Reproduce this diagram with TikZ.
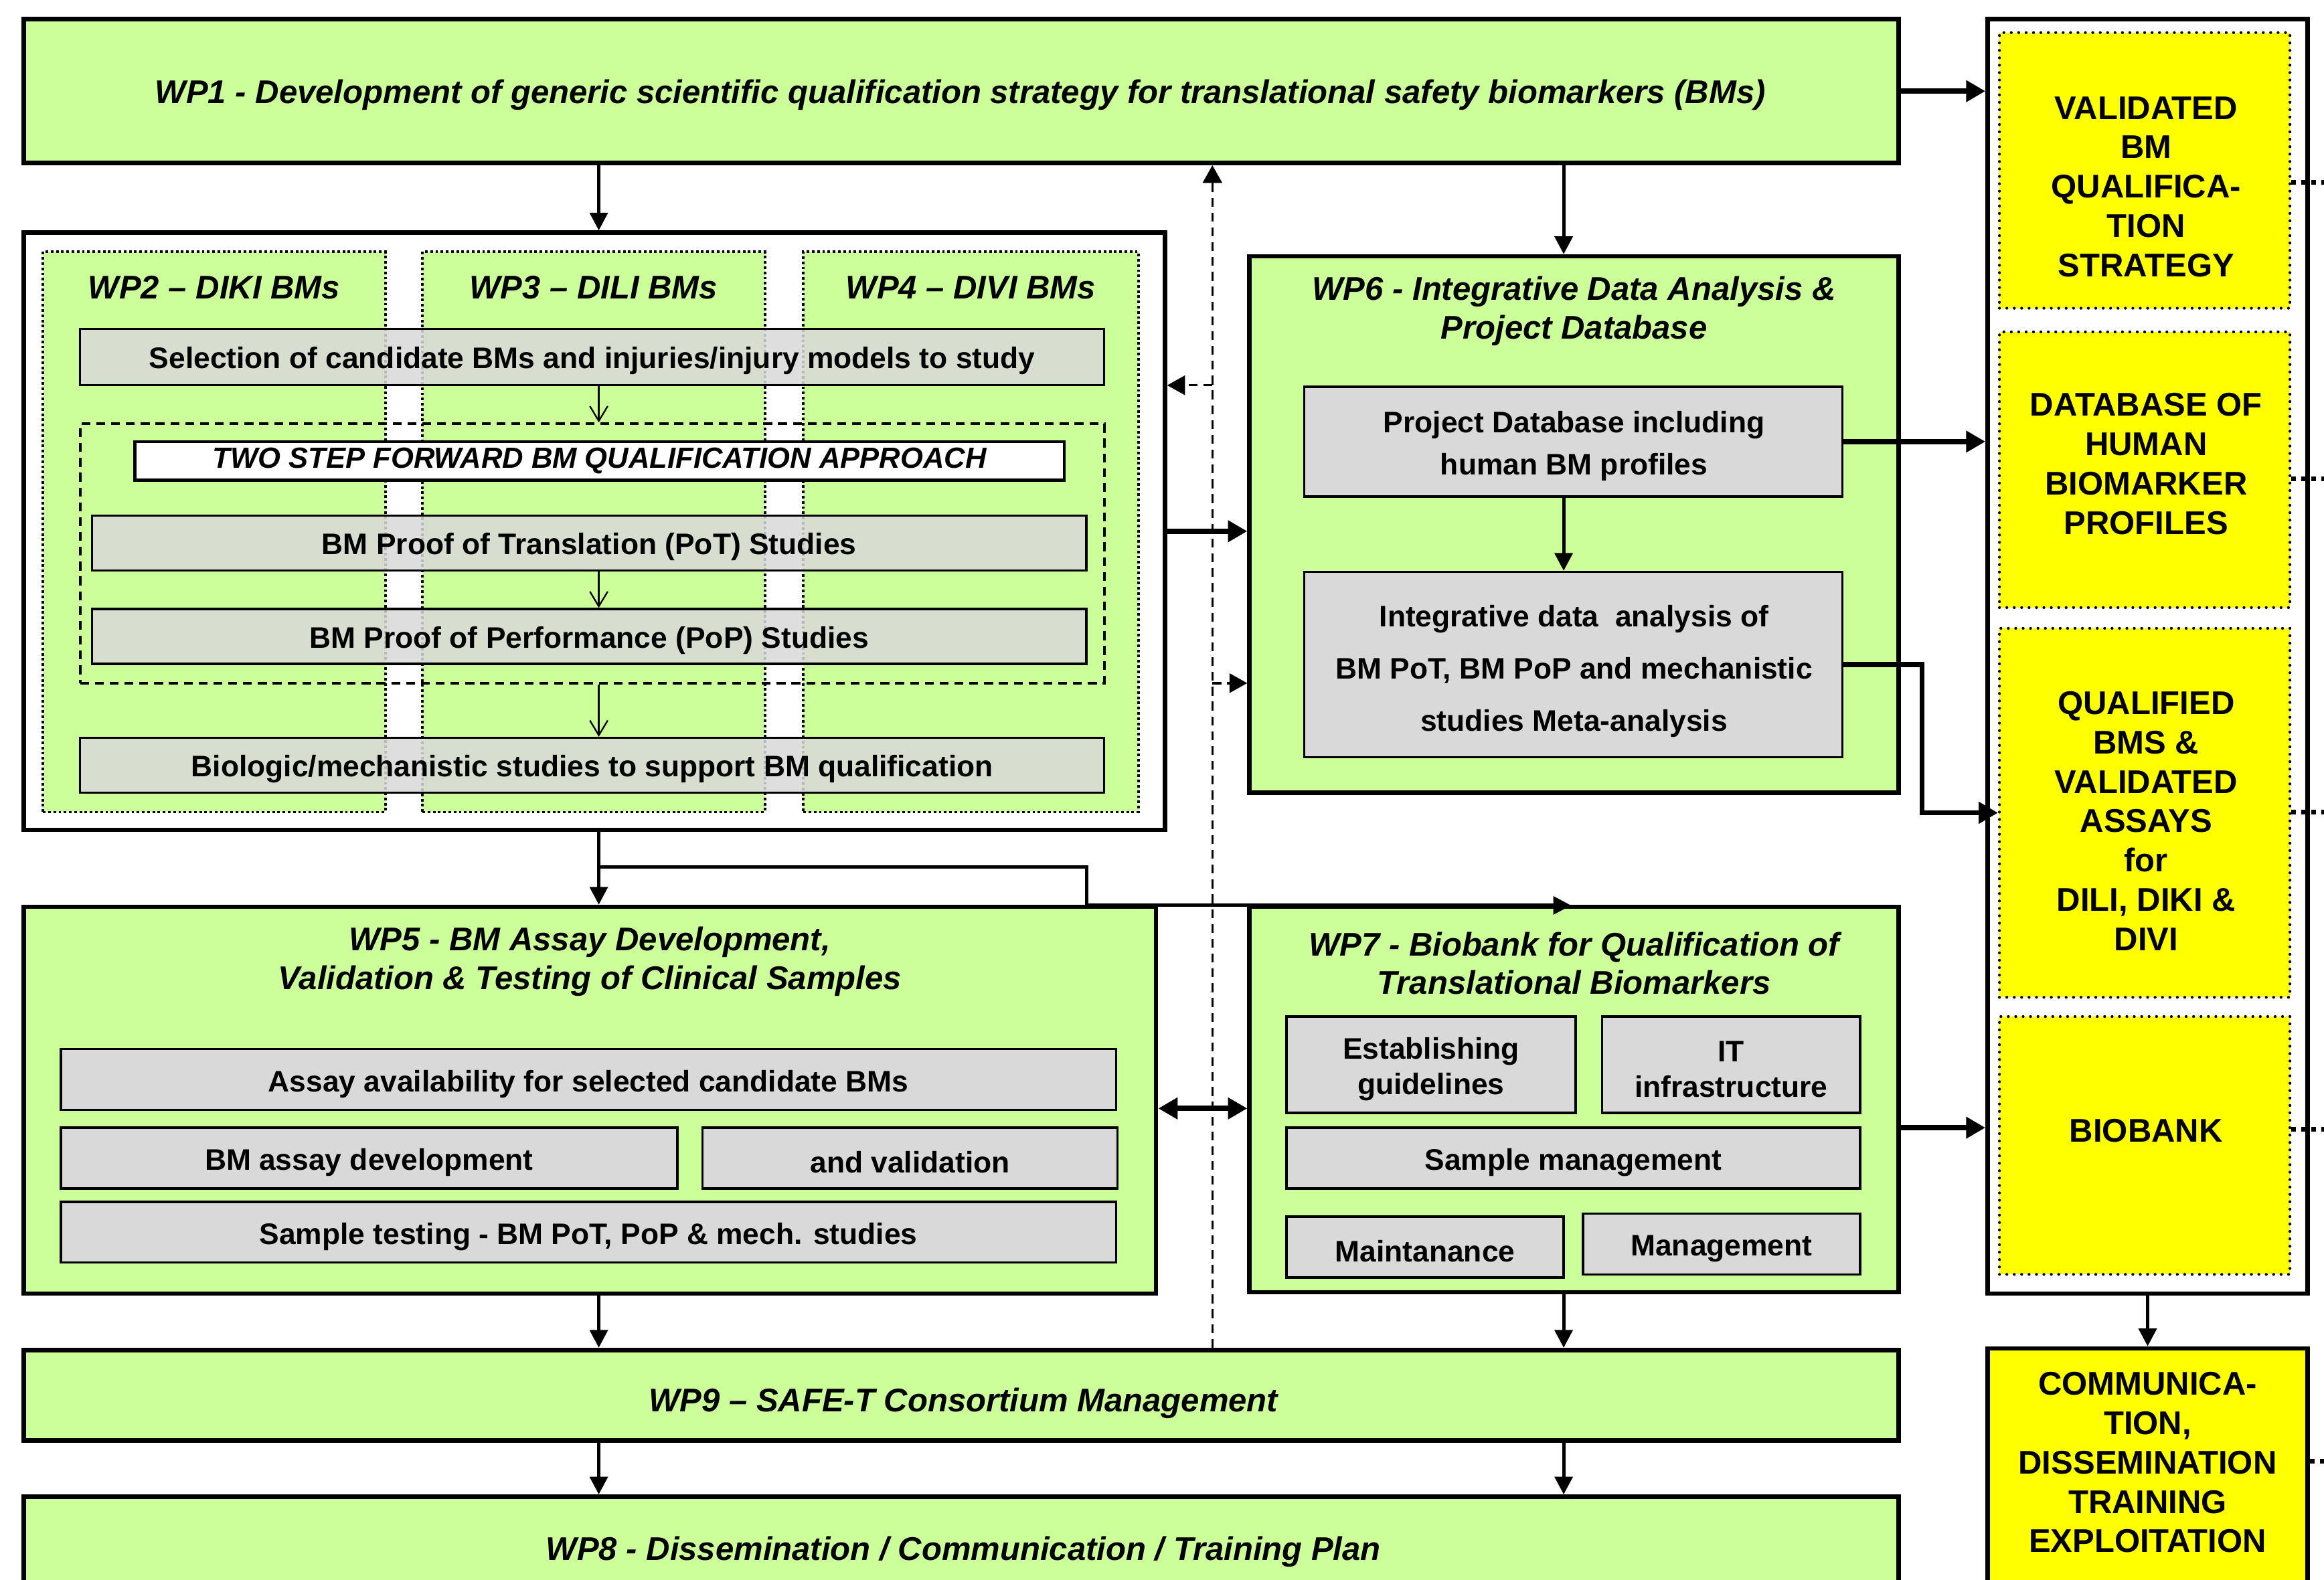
\documentclass[tikz,border=0pt]{standalone}
\usepackage{fontspec}
\setmainfont{Liberation Sans}
\usetikzlibrary{arrows.meta,fit}

\definecolor{wpgreen}{HTML}{CCFF99}
\definecolor{boxgray}{HTML}{D9D9D9}
\definecolor{outyellow}{HTML}{FFFF00}

\newcommand{\wpfont}{\fontsize{12.6}{14.8}\selectfont\bfseries\itshape}
\newcommand{\boxfont}{\fontsize{11.4}{13.6}\selectfont\bfseries}
\newcommand{\outfont}{\fontsize{12.6}{15.1}\selectfont\bfseries}

\tikzset{
  wpbox/.style={draw,line width=1.7pt,fill=wpgreen,inner sep=0pt},
  framebox/.style={draw,line width=1.7pt,fill=white,inner sep=0pt},
  colbox/.style={draw,line width=1pt,dash pattern=on 1pt off 1pt,fill=wpgreen,inner sep=0pt},
  graybox/.style={draw,line width=0.9pt,fill=boxgray,inner sep=0pt},
  seebox/.style={graybox,fill opacity=0.85},
  outbox/.style={draw,line width=1.1pt,line cap=round,dash pattern=on 0pt off 1mm,fill=outyellow,inner sep=0pt},
  wptitle/.style={align=center,font=\wpfont,inner sep=0pt},
  boxtext/.style={align=center,font=\boxfont,inner sep=0pt},
  outtext/.style={align=center,font=\outfont,inner sep=0pt},
  arr/.style={line width=1.3pt,-{Triangle[length=2.4mm,width=2.4mm]}},
  bigarr/.style={line width=2pt,-{Triangle[length=2.6mm,width=2.8mm]}},
  dblarr/.style={line width=2pt,{Triangle[length=2.6mm,width=2.8mm]}-{Triangle[length=2.6mm,width=2.8mm]}},
  dasharr/.style={line width=0.9pt,dash pattern=on 1.2mm off 0.8mm,-{Triangle[length=2.4mm,width=2.6mm]}},
  openarr/.style={line width=0.6pt,-{Straight Barb[length=2mm,width=2.4mm]}},
  stub/.style={line width=1.7pt,dash pattern=on 0.6mm off 0.75mm}
}

\begin{document}
\begin{tikzpicture}[x=0.2mm,y=-0.2mm]
	\useasboundingbox (0,0) rectangle (1568,1066);

	\node[wpbox,fit={(16,13) (1281,110)}] (wp1) {};
	\node[wptitle] (t1) at (648,64) {WP1 - Development of generic scientific qualification strategy for translational safety biomarkers (BMs)};

	% outputs
	\node[framebox,fit={(1341,13) (1557,873)}] (outframe) {};
	\node[outbox,fit={(1349,22) (1545,208)}] (y1) {};
	\node[outbox,fit={(1349,224) (1545,410)}] (y2) {};
	\node[outbox,fit={(1349,424) (1545,673)}] (y3) {};
	\node[outbox,fit={(1349,686) (1545,860)}] (y4) {};
	\node[outtext] (o1) at (1448,126) {VALIDATED\\BM\\QUALIFICA-\\TION\\STRATEGY};
	\node[outtext] (o2) at (1448,313) {DATABASE OF\\HUMAN\\BIOMARKER\\PROFILES};
	\node[outtext] (o3) at (1448,554) {QUALIFIED\\BMS \&\\VALIDATED\\ASSAYS\\for\\DILI, DIKI \&\\DIVI};
	\node[outtext] (o4) at (1448,763) {BIOBANK};
	\node[draw,line width=1.7pt,fill=outyellow,inner sep=0pt,fit={(1341,910) (1557,1090)}] (comm) {};
	\node[outtext] (o5) at (1449,987) {COMMUNICA-\\TION,\\DISSEMINATION\\TRAINING\\EXPLOITATION};

	% WP2-WP4
	\node[framebox,fit={(16,157) (786,560)}] (frame) {};
	\node[colbox,fit={(29,170) (260,548)}] (wp2) {};
	\node[colbox,fit={(285,170) (516,548)}] (wp3) {};
	\node[colbox,fit={(542,170) (768,548)}] (wp4) {};
	\foreach \c/\t in {wp2/WP2 – DIKI BMs,wp3/WP3 – DILI BMs,wp4/WP4 – DIVI BMs}
		\node[wptitle] (h\c) at (\c.north |- 0,194) {\t};
	\node[seebox,fit={(54,222) (745,260)}] (sel) {};
	\node[draw,line width=1pt,dash pattern=on 1.2mm off 0.8mm,inner sep=0pt,fit={(54,286) (745,461)}] (step) {};
	\node[draw,line width=1.2pt,fill=white,inner sep=0pt,fit={(91,298) (718,324)}] (two) {};
	\node[seebox,fit={(62,348) (733,385)}] (pot) {};
	\node[seebox,fit={(62,411) (733,448)}] (pop) {};
	\node[seebox,fit={(54,498) (745,535)}] (bio) {};
	\node[boxtext] (sel-t) at ([yshift=-0.5mm]sel) {Selection of candidate BMs and injuries/injury models to study};
	\node[boxtext,font=\fontsize{11.2}{13}\selectfont\bfseries\itshape] (two-t) at (two) {TWO STEP FORWARD BM QUALIFICATION APPROACH};
	\node[boxtext] (pot-t) at ([yshift=-0.5mm]pot) {BM Proof of Translation (PoT) Studies};
	\node[boxtext] (pop-t) at ([yshift=-0.5mm]pop) {BM Proof of Performance (PoP) Studies};
	\node[boxtext] (bio-t) at ([yshift=-0.5mm]bio) {Biologic/mechanistic studies to support BM qualification};

	% WP6
	\node[wpbox,fit={(843,173) (1281,535)}] (wp6) {};
	\node[wptitle] (t6) at (1062,210) {WP6 - Integrative Data Analysis \&\\Project Database};
	\node[graybox,fit={(880,261) (1243,335)}] (pdb) {};
	\node[graybox,fit={(880,386) (1243,511)}] (ida) {};
	\node[boxtext,font=\fontsize{11.4}{16.4}\selectfont\bfseries] (pdb-t) at (1062,301) {Project Database including\\human BM profiles};
	\node[boxtext,font=\fontsize{11.4}{20}\selectfont\bfseries] (ida-t) at (1062,453) {Integrative data \ analysis of\\BM PoT, BM PoP and mechanistic\\studies Meta-analysis};

	% WP5
	\node[wpbox,fit={(16,612) (780,873)}] (wp5) {};
	\node[wptitle] (t5) at (398,649) {WP5 - BM Assay Development,\\Validation \& Testing of Clinical Samples};
	\node[graybox,fit={(41,708) (753,749)}] (avail) {};
	\node[graybox,fit={(41,761) (457,802)}] (dev) {};
	\node[graybox,fit={(474,761) (754,802)}] (val) {};
	\node[graybox,fit={(41,811) (753,852)}] (test) {};
	\foreach \b/\t in {avail/Assay availability for selected candidate BMs,dev/BM assay development,
		val/and validation,test/Sample testing - BM PoT{,} PoP \& mech. studies}
		\node[boxtext] (\b-t) at ([yshift=-0.6mm]\b) {\t};

	% WP7
	\node[wpbox,fit={(843,612) (1281,872)}] (wp7) {};
	\node[wptitle] (t7) at (1062,650) {WP7 - Biobank for Qualification of\\Translational Biomarkers};
	\node[graybox,fit={(868,686) (1063,751)}] (est) {};
	\node[graybox,fit={(1081,686) (1255,751)}] (it) {};
	\node[graybox,fit={(868,761) (1255,802)}] (smg) {};
	\node[graybox,fit={(868,821) (1055,862)}] (mnt) {};
	\node[graybox,fit={(1068,819) (1255,860)}] (mgt) {};
	\foreach \b/\t in {est/Establishing\\guidelines,it/IT\\infrastructure,smg/Sample management,
		mnt/Maintanance,mgt/Management}
		\node[boxtext] (\b-t) at ([yshift=-0.6mm]\b) {\t};

	% WP9, WP8
	\node[wpbox,fit={(16,911) (1281,972)}] (wp9) {};
	\node[wptitle] (t9) at (650,947) {WP9 – SAFE-T Consortium Management};
	\node[wpbox,fit={(16,1010) (1281,1090)}] (wp8) {};
	\node[wptitle] (t8) at (650,1047) {WP8 - Dissemination / Communication / Training Plan};

	\coordinate (cl) at (404,0);
	\coordinate (cr) at (1055,0);
	\coordinate (cd) at (818,0);
	\coordinate (d1) at (818,260);
	\coordinate (d2) at (818,461);
	\coordinate (br) at (733,585);
	\coordinate (e7) at (1060,611);
	\coordinate (r57) at (0,748);
	\coordinate (r7) at (0,761);
	\coordinate (edge) at (1568,0);

	\draw[openarr] (sel.south -| cl) -- (step.north -| cl);
	\draw[openarr] (pot.south -| cl) -- (pop.north -| cl);
	\draw[openarr] (step.south -| cl) -- (bio.north -| cl);

	\draw[arr] (wp1.south -| cl) -- (frame.north -| cl);
	\draw[arr] (wp1.south -| cr) -- (wp6.north -| cr);
	\draw[bigarr] (wp1.east) -- (wp1.east -| outframe.west);
	\draw[bigarr] (pdb.east) -- (pdb.east -| outframe.west);
	\draw[arr] (pdb.south -| cr) -- (ida.north -| cr);
	\draw[bigarr] (ida.east) -- ++(53,0) |- (y3.west);
	\draw[bigarr] (frame.east) -- (frame.east -| wp6.west);

	\draw[dasharr] (wp9.north -| cd) -- (wp1.south -| cd);
	\draw[dasharr] (d1) -- (d1 -| frame.east);
	\draw[dasharr] (d2) -- (d2 -| wp6.west);

	\draw[arr] (frame.south -| cl) -- (wp5.north -| cl);
	\draw[arr] (br -| cl) -| (e7 -| br) -- (e7);
	\draw[dblarr] (wp5.east |- r57) -- (wp7.west |- r57);
	\draw[bigarr] (wp7.east |- r7) -- (outframe.west |- r7);
	\draw[arr] (outframe.south) -- (comm.north);

	\draw[arr] (wp5.south -| cl) -- (wp9.north -| cl);
	\draw[arr] (wp7.south -| cr) -- (wp9.north -| cr);
	\draw[arr] (wp9.south -| cl) -- (wp8.north -| cl);
	\draw[arr] (wp9.south -| cr) -- (wp8.north -| cr);

	\foreach \b/\y in {y1/123,y2/323,y3/548,y4/762,comm/986}
		\draw[stub] (\b.east |- 0,\y) -- (edge |- 0,\y);
\end{tikzpicture}
\end{document}
